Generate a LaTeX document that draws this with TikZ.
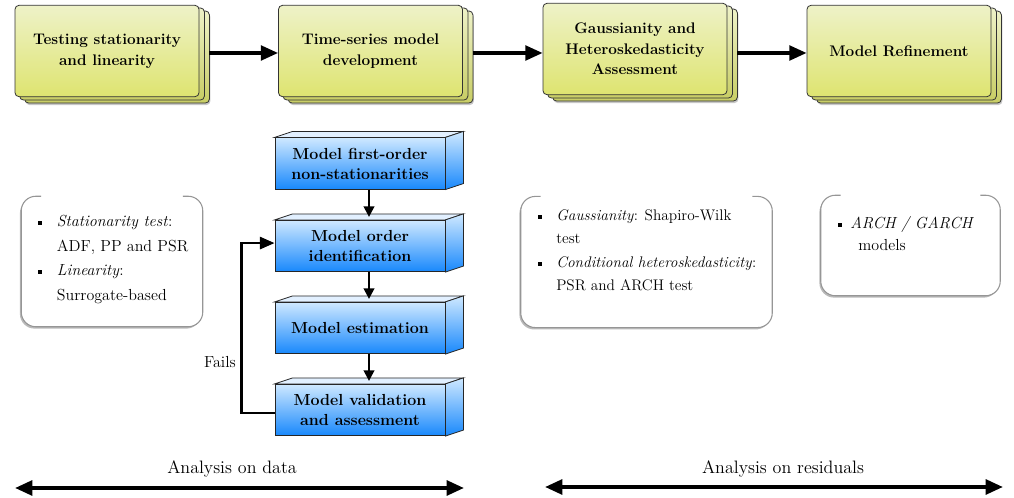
\documentclass[tikz,border=0pt]{standalone}
\usepackage{fontspec}
\usetikzlibrary{arrows.meta,shadows,backgrounds}

% palette
\definecolor{ylTop}{RGB}{238,242,200}
\definecolor{ylMid}{RGB}{248,250,200}
\definecolor{ylBot}{RGB}{222,228,112}
\definecolor{blTop}{RGB}{206,232,255}
\definecolor{blBot}{RGB}{24,136,252}
\definecolor{blFace}{RGB}{226,240,255}
\definecolor{noteEdge}{RGB}{150,150,150}

\newcommand\sqbullet{\raisebox{0.28ex}{\rule{3pt}{3pt}}}

\begin{document}
\begin{tikzpicture}[x=0.75pt,y=-0.75pt,
  stage/.style={draw=black!80, line width=0.6pt, rounded corners=3pt,
    top color=ylTop, middle color=ylMid, bottom color=ylBot,
    minimum width=138pt, minimum height=68.5pt, align=center,
    font=\bfseries\fontsize{11.5}{15.5}\selectfont, inner sep=2pt},
  stagepage/.style={draw=black!80, line width=0.6pt, rounded corners=3pt,
    top color=ylTop, bottom color=ylBot!90!black},
  cube/.style={draw=black!85, line width=0.6pt,
    top color=blTop, bottom color=blBot,
    minimum width=127.5pt, minimum height=38.5pt, align=center,
    font=\bfseries\fontsize{12}{15}\selectfont, inner sep=2pt},
  cubetop/.style={draw=black!85, line width=0.6pt, fill=blFace},
  cubeside/.style={draw=black!85, line width=0.6pt, top color=blTop, bottom color=blBot},
  note/.style={fill=white, rounded corners=11pt, draw=none,
    drop shadow={shadow xshift=-1.2pt, shadow yshift=-1.6pt, opacity=0.45, fill=black!60}},
  noteline/.style={draw=noteEdge, line width=0.8pt, rounded corners=11pt},
  notetext/.style={anchor=base west, inner sep=0pt, align=left},
  flow/.style={line width=2.6pt, -{Triangle[length=13pt,width=11pt]}},
  step arrow/.style={line width=1.6pt, -{Triangle[length=8pt,width=8pt]}},
  loopline/.style={line width=2pt, -{Triangle[length=11pt,width=9pt]}},
  span/.style={line width=2.8pt, {Triangle[length=13pt,width=11pt]}-{Triangle[length=13pt,width=11pt]}},
  lab/.style={font=\fontsize{13.5}{15}\selectfont, inner sep=0pt}
]
\useasboundingbox (0,0) rectangle (1014,498);

% ---- stages along the top ----
\node[stage] (s1) at (107,51)   {Testing stationarity\\and linearity};
\node[stage] (s2) at (370.5,51) {Time-series model\\development};
\node[stage] (s3) at (635,49)   {Gaussianity and\\Heteroskedasticity\\Assessment};
\node[stage] (s4) at (899,51)   {Model Refinement};

\begin{scope}[on background layer]
  \foreach \s in {s1,s2,s3,s4} {
    \fill[black!22, rounded corners=3pt] ([shift={(11,8)}]\s.north west) rectangle ([shift={(11,8)}]\s.south east);
    \foreach \k in {2,1} {
      \path[stagepage] ([shift={(5*\k,3*\k)}]\s.north west) rectangle ([shift={(5*\k,3*\k)}]\s.south east);
    }
  }
\end{scope}

\draw[flow] ([shift={(10,2)}]s1.east) -- ([yshift=-1.5pt]s2.west);
\draw[flow] ([shift={(10,2)}]s2.east) -- ([yshift=-3pt]s3.west);
\draw[flow] ([shift={(10,4)}]s3.east) -- ([yshift=-1.5pt]s4.west);

% ---- modelling steps drawn as boxes ----
\node[cube] (m1) at (360,163.5) {Model first-order\\non-stationarities};
\node[cube] (m2) at (360,246)   {Model order\\identification};
\node[cube] (m3) at (360,328)   {Model estimation};
\node[cube] (m4) at (360,410)   {Model validation\\and assessment};

\foreach \m in {m1,m2,m3,m4} {
  \path[cubetop]  (\m.north west) -- ++(18,-6) -- ([shift={(18,-6)}]\m.north east) -- (\m.north east) -- cycle;
  \path[cubeside] (\m.north east) -- ++(18,-6) -- ([shift={(18,-6)}]\m.south east) -- (\m.south east) -- cycle;
}

\draw[step arrow] ([xshift=6.75pt]m1.south) -- ([shift={(9,-3)}]m2.north);
\draw[step arrow] ([xshift=6.75pt]m2.south) -- ([shift={(9,-3)}]m3.north);
\draw[step arrow] ([xshift=6.75pt]m3.south) -- ([shift={(9,-3)}]m4.north);

\draw[loopline] ([yshift=-2.2pt]m4.west) -- ++(-33,0) |- ([yshift=2.2pt]m2.west);
\node[lab, font=\fontsize{12}{14}\selectfont] (fails) at (220,362) {Fails};

% ---- notes ----
\node[note, minimum width=135.75pt, minimum height=97.5pt] (n1) at (112,261.5) {};
\node[note, minimum width=188.25pt, minimum height=98pt]   (n2) at (646.5,262) {};
\node[note, minimum width=134.25pt, minimum height=75pt]   (n3) at (910.5,245.5) {};
\foreach \n in {n1,n2,n3} {
  \draw[noteline] ([xshift=15pt]\n.north west) -- (\n.north west) -- (\n.south west)
     -- (\n.south east) -- (\n.north east) -- ([xshift=-15pt]\n.north east);
}

\node[notetext] (t1) at (38,226.5) {\fontsize{12}{18.4}\selectfont
  \begin{tabular}[t]{@{}l@{\hspace{11pt}}l@{}}
  \sqbullet & \textit{Stationarity test}: \\
            & ADF, PP and PSR \\
  \sqbullet & \textit{Linearity}: \\
            & Surrogate-based
  \end{tabular}};

\node[notetext] (t2) at (538,220.5) {\fontsize{11.5}{17.6}\selectfont
  \begin{tabular}[t]{@{}l@{\hspace{10.5pt}}l@{}}
  \sqbullet & \textit{Gaussianity}: Shapiro-Wilk \\
            & test \\
  \sqbullet & \textit{Conditional heteroskedasticity}: \\
            & PSR and ARCH test
  \end{tabular}};

\node[notetext] (t3) at (838,228.5) {\fontsize{12}{16.5}\selectfont
  \begin{tabular}[t]{@{}l@{\hspace{6pt}}l@{}}
  \sqbullet & \textit{ARCH / GARCH} \\
            & \hspace{6pt}models
  \end{tabular}};

% ---- analysis spans ----
\coordinate (dL) at (15,488);
\coordinate (dR) at (464,488);
\coordinate (rL) at (545,487);
\coordinate (rR) at (1003,487);
\draw[span] (dL) -- (dR);
\draw[span] (rL) -- (rR);
\node[lab] (ldata) at (232,469) {Analysis on data};
\node[lab] (lres)  at (783,469) {Analysis on residuals};

\end{tikzpicture}
\end{document}
